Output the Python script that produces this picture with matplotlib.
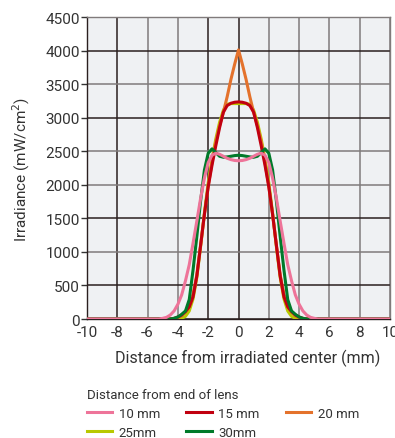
import matplotlib
matplotlib.use("Agg")
import matplotlib.pyplot as plt

plt.rcParams['font.family'] = ['Roboto', 'DejaVu Sans']

# Data (mm, mW/cm^2)
x_pos = [-10, -5.25, -5.0, -4.75, -4.5, -4.25, -4.0, -3.75, -3.5, -3.25, -3.0, -2.75, -2.5, -2.25,
         -2.0, -1.75, -1.5, -1.25, -1.0, -0.75, -0.5, -0.25, 0.0,
         0.25, 0.5, 0.75, 1.0, 1.25, 1.5, 1.75, 2.0, 2.25, 2.5, 2.75, 3.0, 3.25, 3.5,
         3.75, 4.0, 4.25, 4.5, 4.75, 5.0, 5.25, 10]

irr_10mm = [0, 0, 10, 25, 60, 120, 220, 360, 570, 810, 1130, 1460, 1800, 2100,
            2330, 2440, 2470, 2455, 2425, 2395, 2375, 2362, 2358,
            2362, 2375, 2395, 2425, 2455, 2470, 2440, 2330, 2100, 1800, 1460, 1130, 810, 570,
            360, 220, 120, 60, 25, 10, 0, 0]
irr_15mm = [0, 0, 0, 0, 0, 10, 30, 60, 110, 180, 330, 640, 1100, 1560,
            1970, 2290, 2580, 2850, 3080, 3180, 3215, 3230, 3235,
            3230, 3215, 3180, 3080, 2850, 2580, 2290, 1970, 1560, 1100, 640, 330, 180, 110,
            60, 30, 10, 0, 0, 0, 0, 0]
irr_20mm = [0, 0, 0, 0, 0, 0, 20, 50, 110, 200, 370, 660, 1100, 1560,
            1980, 2330, 2640, 2880, 3080, 3310, 3570, 3800, 4010,
            3800, 3570, 3310, 3080, 2880, 2640, 2330, 1980, 1560, 1100, 660, 370, 200, 110,
            50, 20, 0, 0, 0, 0, 0, 0]
irr_25mm = [0, 0, 0, 0, 0, 0, 0, 10, 40, 120, 300, 620, 1080, 1580,
            2030, 2380, 2680, 2930, 3110, 3200, 3210, 3210, 3210,
            3210, 3210, 3200, 3110, 2930, 2680, 2380, 2030, 1580, 1080, 620, 300, 120, 40,
            10, 0, 0, 0, 0, 0, 0, 0]
irr_30mm = [0, 0, 0, 0, 0, 10, 30, 70, 120, 290, 730, 1230, 1760, 2220,
            2470, 2535, 2480, 2425, 2410, 2415, 2425, 2435, 2440,
            2435, 2425, 2415, 2410, 2425, 2480, 2535, 2470, 2220, 1760, 1230, 730, 290, 120,
            70, 30, 10, 0, 0, 0, 0, 0]

x_ticks = [-10, -8, -6, -4, -2, 0, 2, 4, 6, 8, 10]
y_ticks = [0, 500, 1000, 1500, 2000, 2500, 3000, 3500, 4000, 4500]

fig = plt.figure(figsize=(3.95, 4.39), dpi=100)
ax = fig.add_axes([87/395, 1-320/439, (390-87)/395, (320-18)/439])
ax.set_facecolor('#eff1f3')

txt = '#333333'
dark = '#2a1f1f'
gray = '#807b7b'

lw = 2.2
h25, = ax.plot(x_pos, irr_25mm, color='#b8c800', lw=lw, label='25mm', zorder=3)
h20, = ax.plot(x_pos, irr_20mm, color='#e4722c', lw=lw, label='20 mm', zorder=4)
h15, = ax.plot(x_pos, irr_15mm, color='#c10010', lw=lw, label='15 mm', zorder=5)
h30, = ax.plot(x_pos, irr_30mm, color='#007a2a', lw=lw, label='30mm', zorder=6)
h10, = ax.plot(x_pos, irr_10mm, color='#ee7499', lw=lw, label='10 mm', zorder=7)

ax.set_xlim(-10, 10)
ax.set_ylim(0, 4500)
ax.set_xticks(x_ticks)
ax.set_yticks(y_ticks)
ax.set_xticklabels([str(v) for v in x_ticks])
ax.set_yticklabels([str(v) for v in y_ticks])
ax.tick_params(axis='both', labelsize=11, colors=txt, length=4, width=1)
ax.tick_params(axis='x', length=0, pad=4)
ax.tick_params(axis='y', pad=1)

ax.grid(True, color=dark, lw=1.1, zorder=1)
ax.set_axisbelow(True)
ygray = {500: False, 1000: True, 1500: False, 2000: True, 2500: True, 3000: False, 3500: True, 4000: False, 4500: True, 0: False}
for val, gl in zip(y_ticks, ax.get_ygridlines()):
    if ygray.get(val):
        gl.set_color(gray)
xgray = {-10: True, -8: False, -6: True, -4: True, -2: False, 0: False, 2: True, 4: True, 6: True, 8: True, 10: True}
for val, gl in zip(x_ticks, ax.get_xgridlines()):
    if xgray.get(val):
        gl.set_color(gray)

for s in ['top', 'right']:
    ax.spines[s].set_color(gray)
    ax.spines[s].set_linewidth(1)
for s in ['left', 'bottom']:
    ax.spines[s].set_color(dark)
    ax.spines[s].set_linewidth(1)

ax.set_xlabel('Distance from irradiated center (mm)', fontsize=11.5, color=txt, labelpad=7)
ax.xaxis.label.set_x((248 - 87) / 303)
ax.set_ylabel('Irradiance (mW/cm$^2$)', fontsize=11, color=txt, labelpad=10)

leg = fig.legend(handles=[h10, h25, h15, h30, h20],
                 labels=['10 mm', '25mm', '15 mm', '30mm', '20 mm'],
                 ncol=3, loc='upper left', bbox_to_anchor=(87/395, 1-389/439),
                 frameon=False, fontsize=9.5, title='Distance from end of lens',
                 title_fontsize=9.5, alignment='left', handlelength=1.9,
                 handletextpad=0.5, columnspacing=2.0, labelspacing=0.45,
                 borderaxespad=0, borderpad=0)
for t in leg.get_texts():
    t.set_color(txt)
leg.get_title().set_color(txt)

fig.savefig('out.png', dpi=100)
